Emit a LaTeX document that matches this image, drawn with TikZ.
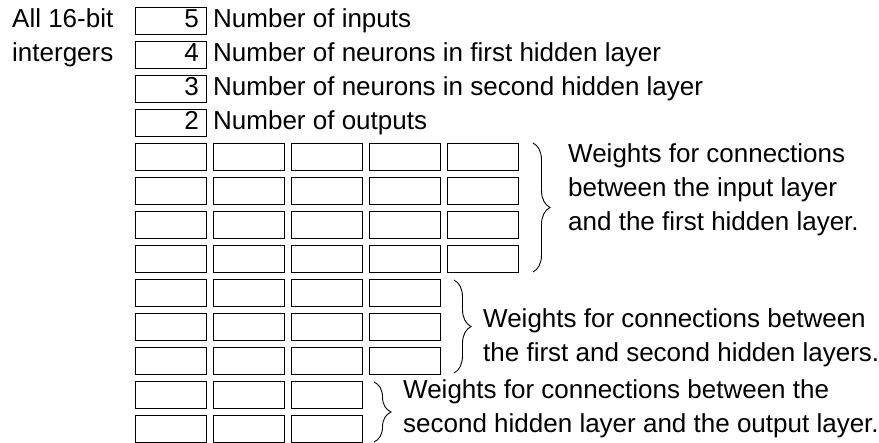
\documentclass[tikz,border=0pt]{standalone}
\usepackage{fontspec}
\setmainfont{Liberation Sans}
\usetikzlibrary{decorations.pathreplacing}
\begin{document}
\begin{tikzpicture}[x=1pt,y=-1pt,
  cell/.style={draw=black,line width=1pt,minimum width=71pt,minimum height=27pt,
               inner sep=0pt,anchor=north west},
  txt/.style={anchor=base west,inner sep=0pt,font=\fontsize{26}{30}\selectfont},
  num/.style={anchor=base east,inner sep=0pt,font=\fontsize{26}{30}\selectfont},
  curly/.style={decorate,decoration={brace,amplitude=17pt,aspect=0.5},line width=0.9pt}]
  \useasboundingbox (0,0) rectangle (879,443);

  % note on the left
  \node[txt] (note1) at (12,27.5) {All 16-bit};
  \node[txt] (note2) at (12,61.5) {intergers};

  % header values with their meaning
  \foreach \v/\t [count=\i] in {5/Number of inputs,
                               4/Number of neurons in first hidden layer,
                               3/Number of neurons in second hidden layer,
                               2/Number of outputs} {
    \pgfmathsetmacro\yy{7+34*(\i-1)}
    \node[cell] (h\i) at (135,\yy) {};
    \node[num] (hv\i) at (199,{\yy+20.5}) {\v};
    \node[txt] (ht\i) at (213,{\yy+20.5}) {\t};
  }

  % weight cells: 4 rows of 5, 3 rows of 4, 2 rows of 3
  \foreach \r/\n in {1/5,2/5,3/5,4/5,5/4,6/4,7/4,8/3,9/3} {
    \foreach \c in {1,...,\n} {
      \node[cell] (g\r-\c) at ({135+78*(\c-1)},{143+34*(\r-1)}) {};
    }
  }

  % braces grouping the weight blocks
  \coordinate (b1top) at (533,143);
  \coordinate (b1bot) at (533,272);
  \coordinate (b2top) at (454,280);
  \coordinate (b2bot) at (454,373);
  \coordinate (b3top) at (374,382);
  \coordinate (b3bot) at (374,442);
  \draw[curly] (b1top) -- (b1bot);
  \draw[curly] (b2top) -- (b2bot);
  \draw[curly] (b3top) -- (b3bot);

  % block descriptions
  \node[txt] (d1a) at (568,163) {Weights for connections};
  \node[txt] (d1b) at (568,197) {between the input layer};
  \node[txt] (d1c) at (568,231) {and the first hidden layer.};

  \node[txt] (d2a) at (483,328) {Weights for connections between};
  \node[txt] (d2b) at (483,362) {the first and second hidden layers.};

  \node[txt] (d3a) at (403,399) {Weights for connections between the};
  \node[txt] (d3b) at (403,433) {second hidden layer and the output layer.};
\end{tikzpicture}
\end{document}
